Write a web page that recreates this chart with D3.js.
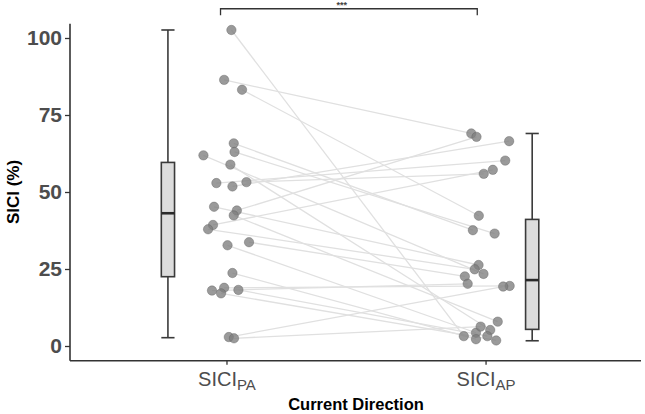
<!DOCTYPE html>
<html>
<head>
<meta charset="utf-8">
<script src="https://cdn.jsdelivr.net/npm/d3@7"></script>
<style>
  html, body { margin: 0; padding: 0; background: #fff; }
  svg { display: block; font-family: "Liberation Sans", Arial, Helvetica, sans-serif; }
</style>
</head>
<body>
<svg id="chart" width="645" height="414"></svg>
<script>
// ---- data ----
const categories = ["PA", "AP"];               // SICI_PA, SICI_AP
const categoryPos = [1, 2];
const yTicks = [0, 25, 50, 75, 100];

// paired subjects: value under PA and under AP, with horizontal jitter (category units)
const paValues = [102.6, 86.4, 83.2, 65.8, 63.0, 61.9, 58.9, 52.9, 51.8, 53.2, 45.2, 44.0,
                  42.4, 39.3, 37.9, 33.7, 32.7, 23.7, 18.0, 18.9, 17.1, 18.2, 2.9, 2.5];
const paJitter = [0.019, -0.009, 0.060, 0.028, 0.031, -0.089, 0.015, -0.039, 0.023, 0.077, -0.048, 0.040,
                  0.028, -0.052, -0.071, 0.087, 0.004, 0.023, -0.056, -0.009, -0.021, 0.046, 0.009, 0.029];
const apValues = [3.2, 69.0, 42.3, 37.6, 36.5, 23.4, 5.2, 60.2, 66.5, 55.9, 26.3, 67.9,
                  7.9, 57.2, 24.9, 22.6, 4.3, 2.2, 20.2, 19.5, 1.8, 3.2, 19.3, 6.3];
const apJitter = [-0.084, -0.055, -0.026, -0.049, 0.035, -0.008, 0.018, 0.076, 0.091, -0.007, -0.027, -0.035,
                  0.047, 0.028, -0.042, -0.080, -0.037, -0.037, -0.069, 0.093, 0.041, 0.007, 0.068, -0.019];

// box plot summaries (as drawn)
const boxPos = [0.774, 2.18];
const boxMin = [2.7, 1.7];
const boxQ1  = [22.5, 5.4];
const boxMed = [43.1, 21.4];
const boxQ3  = [59.6, 41.1];
const boxMax = [102.6, 69.0];

// significance annotation
const sigFrom = 0.977, sigTo = 1.968, sigLabelPos = 1.445, sigY = 109.5, sigTip = 107.4, sigLabel = "***";

// ---- drawing ----
const svg = d3.select("#chart");
const x = d3.scaleLinear().domain([0.396, 2.6]).range([70, 641]);
const y = d3.scaleLinear().domain([0, 100]).range([346, 38]);
const panelTop = y(104.6), panelBottom = y(-4.8);
const axisColor = "#333333";
const labelColor = "#4d4d4d";

// connecting lines
const subjects = d3.range(paValues.length).map(i => ({
  x1: 1 + paJitter[i], y1: paValues[i], x2: 2 + apJitter[i], y2: apValues[i]
}));
svg.append("g").selectAll("line").data(subjects).join("line")
  .attr("x1", d => x(d.x1)).attr("y1", d => y(d.y1))
  .attr("x2", d => x(d.x2)).attr("y2", d => y(d.y2))
  .attr("stroke", "#e0e0e0").attr("stroke-width", 1.3);

// points
const pts = subjects.flatMap(d => [{px: d.x1, py: d.y1}, {px: d.x2, py: d.y2}]);
svg.append("g").selectAll("circle").data(pts).join("circle")
  .attr("cx", d => x(d.px)).attr("cy", d => y(d.py)).attr("r", 4.7)
  .attr("fill", "#7d7d7d").attr("fill-opacity", 0.78)
  .attr("stroke", "#5e5e5e").attr("stroke-opacity", 0.5).attr("stroke-width", 0.8);

// box plots
const bw = 0.0255;
const boxes = boxPos.map((p, i) => ({p, min: boxMin[i], q1: boxQ1[i], med: boxMed[i], q3: boxQ3[i], max: boxMax[i]}));
const bg = svg.append("g").selectAll("g").data(boxes).join("g");
bg.append("line").attr("x1", d => x(d.p)).attr("x2", d => x(d.p))
  .attr("y1", d => y(d.max)).attr("y2", d => y(d.min))
  .attr("stroke", "#3a3a3a").attr("stroke-width", 1.6);
bg.selectAll(".cap").data(d => [[d.p, d.max], [d.p, d.min]]).join("line")
  .attr("x1", d => x(d[0] - bw)).attr("x2", d => x(d[0] + bw))
  .attr("y1", d => y(d[1])).attr("y2", d => y(d[1]))
  .attr("stroke", "#3a3a3a").attr("stroke-width", 1.6);
bg.append("rect").attr("x", d => x(d.p - bw)).attr("width", d => x(d.p + bw) - x(d.p - bw))
  .attr("y", d => y(d.q3)).attr("height", d => y(d.q1) - y(d.q3))
  .attr("fill", "#dcdcdc").attr("stroke", "#3a3a3a").attr("stroke-width", 1.6);
bg.append("line").attr("x1", d => x(d.p - bw)).attr("x2", d => x(d.p + bw))
  .attr("y1", d => y(d.med)).attr("y2", d => y(d.med))
  .attr("stroke", "#2a2a2a").attr("stroke-width", 2.6);

// y axis
const yAxis = svg.append("g").attr("transform", "translate(70,0)")
  .call(d3.axisLeft(y).tickValues(yTicks).tickSize(5).tickPadding(3).tickFormat(d3.format("d")));
yAxis.select(".domain").attr("d", `M0,${panelTop}V${panelBottom}`).attr("stroke", axisColor).attr("stroke-width", 1.6);
yAxis.selectAll(".tick line").attr("stroke", axisColor).attr("stroke-width", 1.3);
yAxis.selectAll(".tick text").attr("fill", labelColor).attr("font-size", 21).attr("font-weight", "bold")
  .attr("font-family", "Liberation Sans, Arial, sans-serif");

// x axis
const xAxis = svg.append("g").attr("transform", `translate(0,${panelBottom})`)
  .call(d3.axisBottom(x).tickValues(categoryPos).tickSize(4).tickPadding(7).tickFormat(() => ""));
xAxis.select(".domain").attr("d", `M70,0H641`).attr("stroke", axisColor).attr("stroke-width", 1.6);
xAxis.selectAll(".tick line").attr("stroke", axisColor).attr("stroke-width", 1.3);
xAxis.selectAll(".tick text").each(function(d, i) {
  const t = d3.select(this).attr("fill", labelColor).attr("font-size", 20)
    .attr("font-family", "Liberation Sans, Arial, sans-serif");
  t.append("tspan").text("SICI");
  t.append("tspan").attr("font-size", 15).attr("dy", "0.28em").text(categories[i]);
});

// axis titles
svg.append("text").attr("x", 356).attr("y", 410).attr("text-anchor", "middle")
  .attr("font-size", 16.5).attr("font-weight", "bold").attr("fill", "#000").text("Current Direction");
svg.append("text").attr("transform", "translate(19,192) rotate(-90)").attr("text-anchor", "middle")
  .attr("font-size", 17).attr("font-weight", "bold").attr("fill", "#000").text("SICI (%)");

// significance bracket
svg.append("path")
  .attr("d", `M${x(sigFrom)},${y(sigTip)}V${y(sigY)}H${x(sigTo)}V${y(sigTip)}`)
  .attr("fill", "none").attr("stroke", "#333").attr("stroke-width", 1.3);
svg.append("text").attr("x", x(sigLabelPos)).attr("y", y(sigY) - 1).attr("text-anchor", "middle")
  .attr("font-size", 9).attr("font-weight", "bold").attr("fill", "#444").text(sigLabel);
</script>
</body>
</html>
